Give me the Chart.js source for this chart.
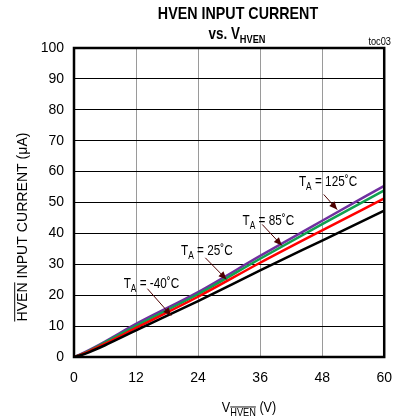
<!DOCTYPE html>
<html>
<head>
<meta charset="utf-8">
<script src="https://cdn.jsdelivr.net/npm/chart.js@4.4.0/dist/chart.umd.min.js"></script>
<style>
html,body{margin:0;padding:0;background:#fff;}
canvas{display:block;}
</style>
</head>
<body>
<canvas id="c" width="405" height="419"></canvas>
<script>
// ---- data ----
const voltages = [0, 1, 3, 6, 12, 24, 36, 48, 60];          // V_HVEN (V)
const currentT125 = [0, 0.7, 2.3, 5.0, 10.7, 21.0, 32.7, 44.1, 55.4]; // µA
const currentT85  = [0, 0.6, 2.1, 4.7, 10.1, 20.3, 31.8, 43.0, 53.9];
const currentT25  = [0, 0.5, 1.9, 4.3, 9.4, 19.5, 30.5, 41.0, 51.3];
const currentTm40 = [0, 0.4, 1.6, 3.8, 8.6, 18.1, 28.0, 37.7, 47.4];
const xTicks = [0, 12, 24, 36, 48, 60];
const yTicks = [0, 10, 20, 30, 40, 50, 60, 70, 80, 90, 100];
// annotation labels ('main|sub|rest'), label anchor, arrow start and end (data units)
const labelTexts = ['T|A| = -40˚C', 'T|A| = 25˚C', 'T|A| = 85˚C', 'T|A| = 125˚C'];
const labelPos   = [[9.6, 24.1], [20.7, 34.5], [32.6, 44.2], [43.5, 56.8]];
const arrowFrom  = [[14.2, 22.1], [25.4, 32.1], [36.4, 42.9], [48.3, 52.6]];
const arrowTo    = [[18.8, 13.4], [29.5, 25.1], [40.2, 36.1], [50.9, 47.7]];

const FONT = "'Liberation Sans', Arial, sans-serif";
const K = 0.84; // horizontal condensing to mimic a narrow face

function pts(ys){ return voltages.map((v,i)=>({x:v, y:ys[i]})); }

// segs: [{t, size, bold, dy, over}]
function narrow(ctx, segs, x, y, align, k){
  k = k || K;
  let widths = segs.map(s => { ctx.font = (s.bold?'bold ':'') + s.size + 'px ' + FONT; return ctx.measureText(s.t).width; });
  const total = widths.reduce((a,b)=>a+b,0) * k;
  let sx = x;
  if (align === 'center') sx = x - total/2;
  else if (align === 'right') sx = x - total;
  ctx.save();
  ctx.translate(sx, y);
  ctx.scale(k, 1);
  ctx.textAlign = 'left';
  ctx.textBaseline = 'alphabetic';
  let cx = 0;
  segs.forEach((s,i) => {
    ctx.font = (s.bold?'bold ':'') + s.size + 'px ' + FONT;
    ctx.fillText(s.t, cx, s.dy||0);
    if (s.over){
      ctx.lineWidth = 1;
      ctx.beginPath();
      ctx.moveTo(cx, (s.dy||0) - s.size*0.82);
      ctx.lineTo(cx + widths[i], (s.dy||0) - s.size*0.82);
      ctx.stroke();
    }
    cx += widths[i];
  });
  ctx.restore();
  return total;
}

const deco = {
  id: 'deco',
  afterDraw(chart){
    const ctx = chart.ctx;
    const xs = chart.scales.x, ys = chart.scales.y;
    const a = chart.chartArea;
    ctx.save();
    // frame
    ctx.strokeStyle = '#000';
    ctx.lineWidth = 2.5;
    ctx.strokeRect(a.left, a.top, a.right - a.left, a.bottom - a.top);

    ctx.fillStyle = '#000';
    ctx.strokeStyle = '#000';
    // title
    narrow(ctx, [{t:'HVEN INPUT CURRENT', size:17, bold:true}], 238, 19, 'center');
    narrow(ctx, [{t:'vs. V', size:16, bold:true}, {t:'HVEN', size:11, bold:true, dy:4}], 237, 39, 'center');
    narrow(ctx, [{t:'toc03', size:11}], 391, 45, 'right');

    // x axis title
    narrow(ctx, [{t:'V', size:15}, {t:'HVEN', size:11, dy:4, over:true}, {t:' (V)', size:15}], 249, 412, 'center');

    // y axis title rotated
    ctx.save();
    ctx.translate(27, 227);
    ctx.rotate(-Math.PI/2);
    narrow(ctx, [{t:'HVEN', size:15, over:true}, {t:' INPUT CURRENT (μA)', size:15}], 0, 0, 'center', 0.94);
    ctx.restore();

    // annotations
    const ac = '#4d0000';
    for (let i = 0; i < labelTexts.length; i++){
      const p = labelTexts[i].split('|');
      ctx.fillStyle = '#000';
      narrow(ctx, [{t:p[0], size:14}, {t:p[1], size:10, dy:4}, {t:p[2], size:14}],
        xs.getPixelForValue(labelPos[i][0]), ys.getPixelForValue(labelPos[i][1]) + 5, 'left');
      const fx = xs.getPixelForValue(arrowFrom[i][0]), fy = ys.getPixelForValue(arrowFrom[i][1]);
      const tx = xs.getPixelForValue(arrowTo[i][0]), ty = ys.getPixelForValue(arrowTo[i][1]);
      ctx.strokeStyle = ac; ctx.fillStyle = ac; ctx.lineWidth = 1;
      ctx.beginPath(); ctx.moveTo(fx, fy); ctx.lineTo(tx, ty); ctx.stroke();
      const ang = Math.atan2(ty - fy, tx - fx);
      const L = 8, W = 3.5;
      ctx.beginPath();
      ctx.moveTo(tx, ty);
      ctx.lineTo(tx - L*Math.cos(ang) + W*Math.sin(ang), ty - L*Math.sin(ang) - W*Math.cos(ang));
      ctx.lineTo(tx - L*Math.cos(ang) - W*Math.sin(ang), ty - L*Math.sin(ang) + W*Math.cos(ang));
      ctx.closePath(); ctx.fill();
    }
    ctx.restore();
  }
};

new Chart(document.getElementById('c'), {
  type: 'line',
  data: {
    datasets: [
      {label: 'TA = -40˚C', data: pts(currentTm40), borderColor: '#000000'},
      {label: 'TA = 25˚C',  data: pts(currentT25),  borderColor: '#ff0000'},
      {label: 'TA = 85˚C',  data: pts(currentT85),  borderColor: '#10a050'},
      {label: 'TA = 125˚C', data: pts(currentT125), borderColor: '#7030a0'}
    ].map(d => Object.assign(d, {borderWidth: 2.5, pointRadius: 0, fill: false, cubicInterpolationMode: 'monotone'}))
  },
  options: {
    responsive: false,
    animation: false,
    events: [],
    layout: {padding: {top: 48, right: 13, left: 0, bottom: 0}},
    plugins: {legend: {display: false}, tooltip: {enabled: false}, title: {display: false}},
    scales: {
      x: {
        type: 'linear', min: 0, max: 60,
        afterBuildTicks(s){ s.ticks = xTicks.map(v => ({value: v})); },
        afterFit(s){ s.height = 62; },
        grid: {color: '#9a9a9a', lineWidth: 1, drawTicks: false},
        border: {display: false},
        ticks: {color: '#000', padding: 13, font: {family: FONT, size: 14}, maxRotation: 0}
      },
      y: {
        type: 'linear', min: 0, max: 100,
        afterBuildTicks(s){ s.ticks = yTicks.map(v => ({value: v})); },
        afterFit(s){ s.width = 74; },
        grid: {color: '#000', lineWidth: 1, drawTicks: false},
        border: {display: false},
        ticks: {color: '#000', padding: 10, font: {family: FONT, size: 14}}
      }
    }
  },
  plugins: [deco]
});
</script>
</body>
</html>
